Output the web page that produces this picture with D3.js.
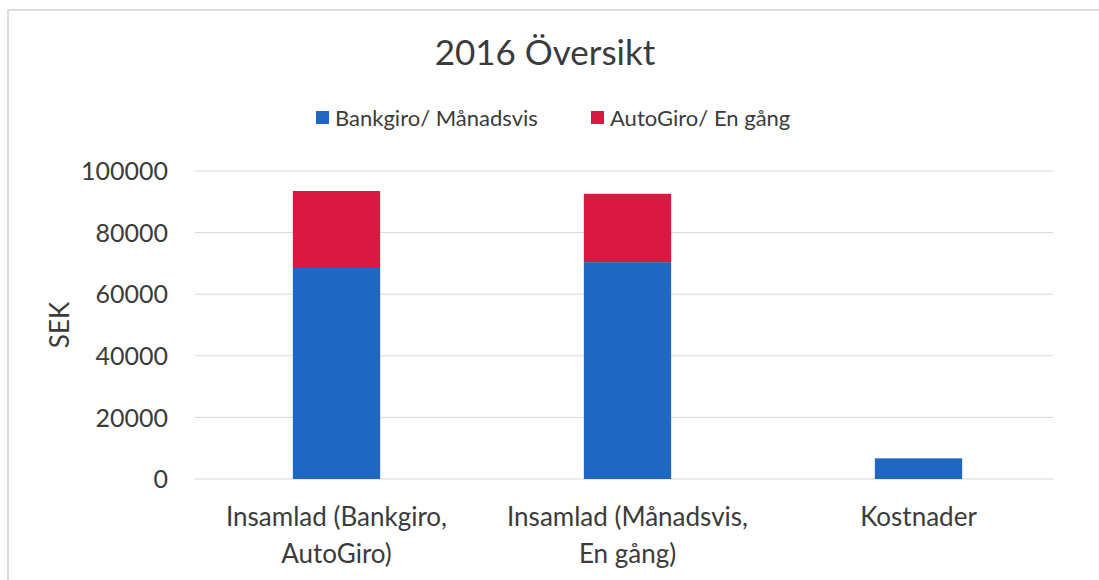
<!DOCTYPE html>
<html>
<head>
<meta charset="utf-8">
<script src="https://cdn.jsdelivr.net/npm/d3@7"></script>
<style>
  body { margin: 0; background: #fff; }
  svg { font-family: Lato, "Open Sans", sans-serif; }
</style>
</head>
<body>
<svg id="chart" width="1099" height="580"></svg>
<script>
const categories = [["Insamlad (Bankgiro,", "AutoGiro)"], ["Insamlad (Månadsvis,", "En gång)"], ["Kostnader"]];
const seriesNames = ["Bankgiro/ Månadsvis", "AutoGiro/ En gång"];
const blueValues = [68500, 70400, 6700];
const redValues = [25000, 22200, 0];
const yTicks = [0, 20000, 40000, 60000, 80000, 100000];
const colors = ["#1f67c2", "#da1943"];

const svg = d3.select("#chart");
const width = 1099, height = 580;
const textColor = "#3b3b3b";

// chart frame (scanned page only shows top and left edges)
svg.append("line").attr("x1", 8).attr("x2", width).attr("y1", 10).attr("y2", 10)
  .attr("stroke", "#d0d0d0").attr("stroke-width", 1.5);
svg.append("line").attr("x1", 8).attr("x2", 8).attr("y1", 10).attr("y2", height)
  .attr("stroke", "#d0d0d0").attr("stroke-width", 1.5);

const keys = categories.map(c => c.join(" "));
const data = keys.map((k, i) => ({ key: k, blue: blueValues[i], red: redValues[i] }));

const x = d3.scaleBand()
  .domain(keys)
  .range([191, 1064])
  .paddingInner(0.7)
  .paddingOuter(0.35);

const y = d3.scaleLinear()
  .domain([0, 100000])
  .range([479, 171]);

// gridlines
svg.append("g")
  .selectAll("line")
  .data(yTicks)
  .join("line")
  .attr("x1", 195)
  .attr("x2", 1053)
  .attr("y1", d => y(d))
  .attr("y2", d => y(d))
  .attr("stroke", "#d9d9d9")
  .attr("stroke-width", 1);

// y axis tick labels
const yAxis = d3.axisLeft(y).tickValues(yTicks).tickSize(0).tickPadding(0).tickFormat(d3.format("d"));
const yg = svg.append("g").attr("transform", "translate(168,0)").call(yAxis);
yg.select(".domain").remove();
yg.selectAll("text")
  .attr("fill", textColor)
  .style("font-size", "25px")
  .style("font-family", "Lato, sans-serif")
  .attr("dy", "0.35em");

// stacked bars
const stack = d3.stack().keys(["blue", "red"]);
const layers = stack(data);

svg.append("g")
  .selectAll("g")
  .data(layers)
  .join("g")
  .attr("fill", (d, i) => colors[i])
  .selectAll("rect")
  .data(d => d)
  .join("rect")
  .attr("x", d => x(d.data.key))
  .attr("width", x.bandwidth())
  .attr("y", d => y(d[1]))
  .attr("height", d => y(d[0]) - y(d[1]));

// x category labels
const xl = svg.append("g");
categories.forEach((lines, i) => {
  const cx = x(keys[i]) + x.bandwidth() / 2;
  const t = xl.append("text")
    .attr("x", cx)
    .attr("y", 526)
    .attr("text-anchor", "middle")
    .attr("fill", textColor)
    .style("font-size", "26px");
  lines.forEach((ln, j) => {
    t.append("tspan")
      .attr("x", cx)
      .attr("dy", j === 0 ? 0 : 37)
      .text(ln);
  });
});

// y axis title
svg.append("text")
  .attr("transform", "translate(69,325) rotate(-90)")
  .attr("text-anchor", "middle")
  .attr("fill", textColor)
  .style("font-size", "26px")
  .text("SEK");

// chart title
svg.append("text")
  .attr("x", 545)
  .attr("y", 65)
  .attr("text-anchor", "middle")
  .attr("fill", textColor)
  .style("font-size", "35px")
  .text("2016 Översikt");

// legend
const legendX = [316, 591];
const legend = svg.append("g")
  .selectAll("g")
  .data(seriesNames)
  .join("g")
  .attr("transform", (d, i) => `translate(${legendX[i]},111)`);
legend.append("rect")
  .attr("width", 13)
  .attr("height", 13)
  .attr("fill", (d, i) => colors[i]);
legend.append("text")
  .attr("x", 19)
  .attr("y", 7)
  .attr("dy", "0.35em")
  .attr("fill", textColor)
  .style("font-size", "22px")
  .text(d => d);
</script>
</body>
</html>
